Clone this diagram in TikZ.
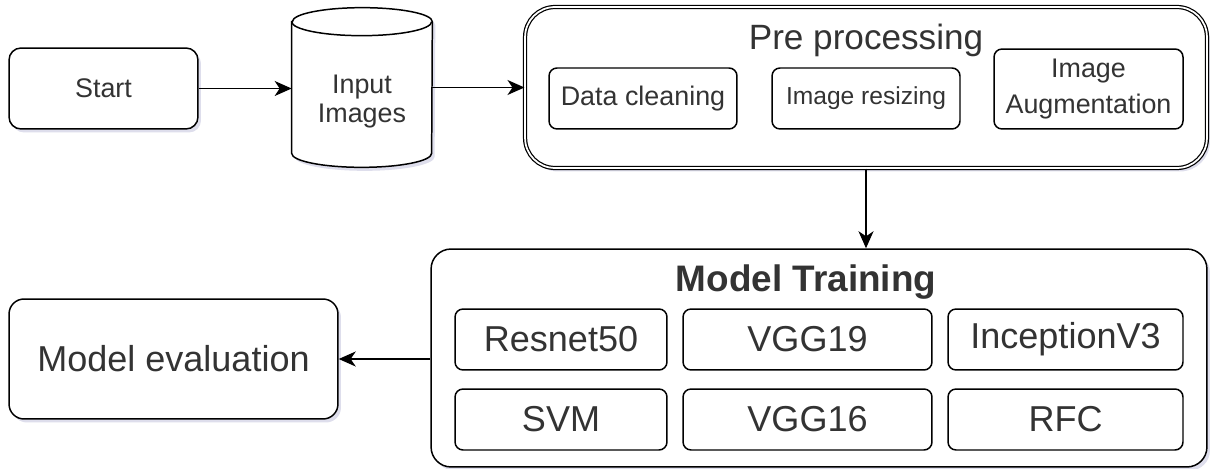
\documentclass[tikz,border=0pt]{standalone}
\usepackage{fontspec}
\setmainfont{Liberation Sans}
\usepackage{tikz}
\usetikzlibrary{
    arrows.meta,
    positioning,
    shadows,
    backgrounds
}
\definecolor{txtgray}{HTML}{333333}
\definecolor{shadowblue}{RGB}{160,160,200}
\tikzstyle{arrow} = [
    -{Stealth[length=0.34cm, width=0.3cm, inset=0.1cm]},
    line width=0.85pt
]
\tikzstyle{box} = [
    draw,
    rounded corners=0.24cm,
    line width=0.85pt,
    inner sep=0pt,
    align=center,
    text=txtgray
]
\tikzstyle{lifted} = [
    drop shadow={shadow xshift=0.06cm, shadow yshift=-0.07cm, opacity=0.35, fill=shadowblue}
]
\tikzstyle{prepbox} = [
    box,
    rounded corners=0.16cm,
    font=\fontsize{15.3}{18}\selectfont
]
\tikzstyle{model} = [
    box,
    rounded corners=0.16cm,
    minimum height=1.22cm,
    font=\fontsize{20.5}{24}\selectfont
]

\begin{document}
\begin{tikzpicture}[x=0.02cm, y=-0.02cm]
        \useasboundingbox (0,0) rectangle (1212,469);

        % Start and input
        \node[box, lifted, fill=white, minimum width=3.78cm, minimum height=1.62cm,
              font=\fontsize{15.3}{18}\selectfont] (start) at (103.5,88.5) {Start};
        \node[align=center, inner sep=0pt, text=txtgray, minimum width=2.8cm, minimum height=2.62cm,
              font=\fontsize{15.3}{16}\selectfont] (inp) at (362,101.5) {Input\\Images};
        \begin{scope}[on background layer]
            \draw[line width=0.85pt, fill=white, lifted]
                ([yshift=0.28cm]inp.north west) -- ([yshift=0.28cm]inp.south west)
                arc[start angle=180, end angle=360, x radius=1.4cm, y radius=0.28cm]
                -- ([yshift=0.28cm]inp.north east)
                arc[start angle=0, end angle=180, x radius=1.4cm, y radius=0.28cm] -- cycle;
            \draw[line width=0.85pt] ([yshift=0.28cm]inp.north west)
                arc[start angle=180, end angle=360, x radius=1.4cm, y radius=0.28cm];
        \end{scope}

        % Pre processing block
        \node[box, lifted, fill=white, line width=0.7pt, double, double distance=1pt, rounded corners=0.6cm,
              minimum width=13.64cm, minimum height=3.22cm] (pre) at (866,87.5) {};
        \node[anchor=base, text=txtgray, font=\fontsize{20}{24}\selectfont] (pretitle) at (866,50) {Pre processing};
        \node[prepbox, minimum width=3.76cm, minimum height=1.22cm] (clean) at (643,98.5) {Data cleaning};
        \node[prepbox, minimum width=3.76cm, minimum height=1.22cm,
              font=\fontsize{14}{16}\selectfont] (resize) at (866,98.5) {Image resizing};
        \node[prepbox, minimum width=3.78cm, minimum height=1.6cm,
              font=\fontsize{15.3}{21}\selectfont] (augment) at (1088.5,89) {Image\\Augmentation};

        % Model training block
        \node[box, lifted, fill=white, rounded corners=0.4cm, minimum width=15.52cm, minimum height=4.36cm] (train) at (819,358) {};
        \node[anchor=base, text=txtgray, font=\bfseries\fontsize{21}{24}\selectfont] (traintitle) at (806,292) {Model Training};
        \node[model, minimum width=4.24cm] (resnet) at (561,339.5) {Resnet50};
        \node[model, minimum width=4.98cm] (vggnineteen) at (807.5,339.5) {VGG19};
        \node[model, minimum width=4.7cm] (inception) at (1065.5,339.5) {InceptionV3};
        \node[model, minimum width=4.24cm] (svm) at (561,419.5) {SVM};
        \node[model, minimum width=4.98cm] (vggsixteen) at (807.5,419.5) {VGG16};
        \node[model, minimum width=4.7cm] (rfc) at (1065.5,419.5) {RFC};

        % Evaluation
        \node[box, lifted, fill=white, rounded corners=0.3cm, minimum width=6.58cm, minimum height=2.4cm,
              font=\fontsize{20.5}{24}\selectfont] (eval) at (173.5,359) {Model evaluation};

        % Flow
        \draw[arrow] (start.east) -- (start.east -| inp.west);
        \draw[arrow] (inp.east |- pre.west) -- (pre.west);
        \draw[arrow] (pre.south) -- (pre.south |- train.north);
        \draw[arrow] (train.west |- eval.east) -- (eval.east);
    \end{tikzpicture}
\end{document}
